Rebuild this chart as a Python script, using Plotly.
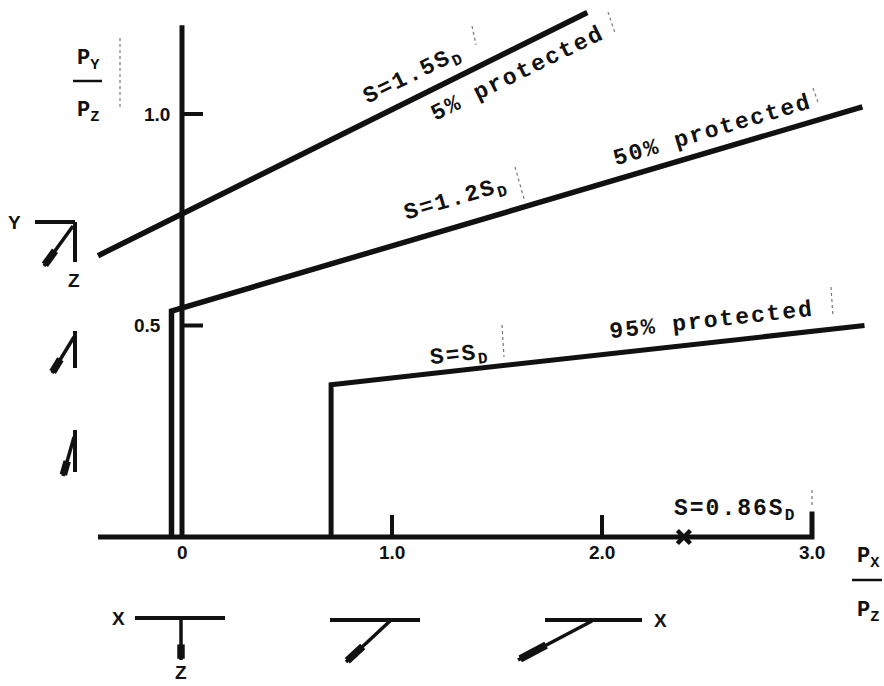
import plotly.graph_objects as go

# ---------------- data ----------------
axis_x = [-0.40, 3.00, 3.00]          # x axis with end bracket
axis_y = [0.0, 0.0, 0.06]
yaxis_x = [0.0, 0.0]
yaxis_y = [0.0, 1.21]

x_ticks = [1.0, 2.0]
x_tick_len = 0.052
x_label_pos = [0.0, 1.0, 2.0, 3.0]
x_labels = ["0", "1.0", "2.0", "3.0"]
y_ticks = [0.5, 1.0]
y_labels = ["0.5", "1.0"]
y_tick_len = 0.10

# S = 1.5 S_D  (5% protected)
s15_x = [-0.40, 1.93]
s15_y = [0.665, 1.24]
# S = 1.2 S_D  (50% protected)
s12_x = [-0.05, -0.05, 3.24]
s12_y = [0.0, 0.534, 1.017]
# S = S_D  (95% protected)
s10_x = [0.71, 0.71, 3.25]
s10_y = [0.0, 0.36, 0.50]
# S = 0.86 S_D
s086_x = [2.39]
s086_y = [0.0]

# ---------------- layout helpers ----------------
W, H = 884, 686
X0PX, XS = 182.0, 210.0
Y0PX, YS = 537.0, 423.0


def X(px):
    return (px - X0PX) / XS


def Y(py):
    return (Y0PX - py) / YS


BLACK = "#111111"
MONO = "Liberation Mono"
SANS = "Liberation Sans"

fig = go.Figure()


def line(xs, ys, w=5):
    fig.add_trace(go.Scatter(x=xs, y=ys, mode="lines",
                             line=dict(color=BLACK, width=w),
                             hoverinfo="skip"))


line(axis_x, axis_y, 5)
line(yaxis_x, yaxis_y, 5)
for t in x_ticks:
    line([t, t], [0, x_tick_len], 4)
for t in y_ticks:
    line([0, y_tick_len], [t, t], 4)
line(s15_x, s15_y, 5.5)
line(s12_x, s12_y, 5.5)
line(s10_x, s10_y, 5)
fig.add_trace(go.Scatter(x=s086_x, y=s086_y, mode="markers",
                         marker=dict(symbol="x-thin", size=13,
                                     line=dict(color=BLACK, width=4.5)),
                         hoverinfo="skip"))

ann = []

# tick labels
for v, s in zip(x_label_pos, x_labels):
    ann.append(dict(x=v, y=Y(552), xref="x", yref="y", text=f"<b>{s}</b>",
                    showarrow=False,
                    font=dict(family=SANS, size=19, color=BLACK)))
for v, s, xp in zip(y_ticks, y_labels, [147, 157]):
    ann.append(dict(x=X(xp), y=v, xref="x", yref="y", text=f"<b>{s}</b>",
                    showarrow=False,
                    font=dict(family=SANS, size=19, color=BLACK)))


def label(px, py, text, angle=0, size=23, family=MONO, ls=2):
    t = f'<span style="letter-spacing:{ls}px">{text}</span>' if ls else text
    ann.append(dict(x=X(px), y=Y(py), xref="x", yref="y", text=f"<b>{t}</b>",
                    showarrow=False, textangle=angle,
                    font=dict(family=family, size=size, color=BLACK)))


label(413, 76, "S=1.5S<sub>D</sub>", -26)
label(518, 74, "5% protected", -26)
label(456, 200, "S=1.2S<sub>D</sub>", -16.4)
label(712, 131, "50% protected", -16.4)
label(459, 356, "S=S<sub>D</sub>", -6.3)
label(711, 321, "95% protected", -6.3)
label(735, 510, "S=0.86S<sub>D</sub>", 0)

# axis titles (fractions)
label(88, 60, "P<sub>Y</sub>", 0, 22, MONO, 0)
label(88, 112, "P<sub>Z</sub>", 0, 22, MONO, 0)
label(868, 558, "P<sub>X</sub>", 0, 22, MONO, 0)
label(868, 612, "P<sub>Z</sub>", 0, 22, MONO, 0)

# orientation letters
for px, py, s in [(14, 222, "Y"), (74, 280, "Z"), (118, 618, "X"),
                  (181, 672, "Z"), (660, 620, "X")]:
    label(px, py, s, 0, 19, SANS, 0)

shapes = []


def seg(x1, y1, x2, y2, w=4, color=BLACK, dash="solid"):
    shapes.append(dict(type="line", xref="x", yref="y",
                       x0=X(x1), y0=Y(y1), x1=X(x2), y1=Y(y2),
                       line=dict(color=color, width=w, dash=dash)))


def arrow(tx, ty, hx, hy):
    # thin shaft ending in a thick tear-drop tip
    seg(tx, ty, hx, hy, 3.5)
    f1, f2 = 0.62, 0.97
    seg(tx + (hx - tx) * f1, ty + (hy - ty) * f1,
        tx + (hx - tx) * f2, ty + (hy - ty) * f2, 7.5)


# fraction bars
seg(73, 81, 102, 81, 2.5)
seg(852, 580, 882, 580, 2.5)

# glyph Y/Z
seg(35, 222, 75, 222, 4)
seg(75, 222, 75, 262, 4)
arrow(73, 226, 44, 266)
# small glyphs on left
seg(75, 331, 75, 368, 4)
arrow(74, 337, 52, 373)
seg(75, 430, 75, 472, 4)
arrow(74, 437, 63, 476)
# bottom glyphs
seg(135, 618, 225, 618, 4)
arrow(181, 619, 181, 660)
seg(330, 620, 420, 620, 4)
arrow(390, 621, 346, 662)
seg(545, 620, 642, 620, 4)
arrow(592, 621, 518, 660)

# faint scan marks
for a in [(120, 38, 120, 110), (472, 26, 476, 45), (608, 12, 615, 33),
          (515, 167, 525, 202), (813, 88, 819, 105), (502, 325, 504, 357),
          (831, 287, 833, 317), (812, 490, 812, 505)]:
    seg(*a, w=1.2, color="#777777", dash="dot")

fig.update_layout(
    width=W, height=H, margin=dict(l=0, r=0, t=0, b=0),
    paper_bgcolor="white", plot_bgcolor="white", showlegend=False,
    xaxis=dict(range=[X(0), X(W)], visible=False, fixedrange=True),
    yaxis=dict(range=[Y(H), Y(0)], visible=False, fixedrange=True),
    annotations=ann, shapes=shapes,
)

fig.write_html("out.html")
